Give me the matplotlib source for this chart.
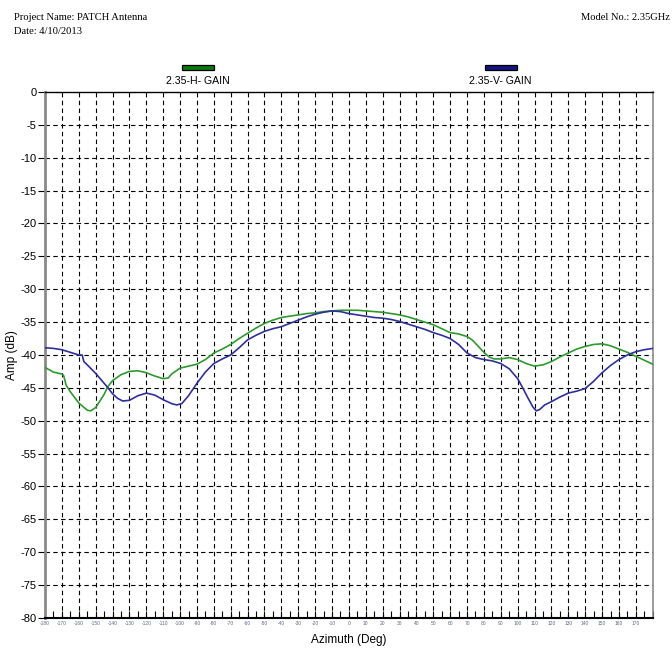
import matplotlib.pyplot as plt
from matplotlib.patches import Rectangle
from matplotlib.ticker import MultipleLocator

# azimuth (deg) and gain (dB) for the two polarisations
h_az = [-180, -175, -170, -169, -167.5, -165, -160, -155, -153, -150, -145, -143,
        -140, -135, -130, -125, -120, -115, -110, -107, -105, -100, -95, -90,
        -85, -80, -75, -70, -65, -60, -55, -50, -45, -40, -35, -30, -25, -20,
        -15, -10, -5, 0, 5, 10, 15, 20, 25, 30, 35, 40, 45, 50, 55, 60, 65, 70,
        73, 76, 80, 83, 86, 90, 95, 100, 105, 110, 115, 120, 125, 130, 135, 140,
        145, 150, 155, 160, 165, 170, 175, 180]
h_gain = [-41.9, -42.6, -42.9, -43.1, -44.6, -45.6, -47.3, -48.4, -48.5, -48.0,
          -46.0, -44.9, -43.9, -43.0, -42.5, -42.4, -42.7, -43.2, -43.6, -43.5,
          -42.9, -42.0, -41.7, -41.4, -40.7, -39.7, -39.1, -38.4, -37.5, -36.7,
          -35.9, -35.2, -34.7, -34.3, -34.1, -33.9, -33.7, -33.6, -33.4, -33.3,
          -33.2, -33.2, -33.2, -33.3, -33.4, -33.5, -33.7, -33.9, -34.2, -34.6,
          -35.0, -35.4, -36.0, -36.6, -36.8, -37.2, -37.7, -38.5, -39.6, -40.3,
          -40.6, -40.6, -40.4, -40.7, -41.3, -41.7, -41.5, -41.0, -40.3, -39.7,
          -39.1, -38.7, -38.4, -38.3, -38.6, -39.1, -39.6, -40.2, -40.8, -41.4]

v_az = [-180, -175, -170, -165, -160, -158, -157, -155, -150, -145, -143, -140,
        -137, -134, -130, -125, -120, -115, -110, -105, -102, -99, -95, -90,
        -85, -80, -75, -70, -65, -60, -55, -50, -45, -40, -35, -30, -25, -20,
        -15, -10, -5, 0, 5, 10, 15, 20, 25, 30, 35, 40, 45, 50, 55, 60, 65, 70,
        75, 80, 85, 90, 95, 100, 103, 106, 109, 111, 113, 116, 120, 125, 130,
        135, 140, 145, 150, 155, 160, 165, 170, 175, 180]
v_gain = [-38.9, -39.0, -39.2, -39.6, -40.0, -40.0, -41.0, -41.5, -42.8, -44.3,
          -44.9, -45.9, -46.6, -47.0, -46.9, -46.2, -45.8, -46.1, -46.8, -47.4,
          -47.6, -47.4, -46.2, -44.3, -42.6, -41.3, -40.6, -40.0, -38.9, -37.7,
          -37.0, -36.4, -36.0, -35.7, -35.2, -34.7, -34.2, -33.8, -33.5, -33.3,
          -33.4, -33.7, -33.9, -34.1, -34.3, -34.4, -34.6, -34.9, -35.3, -35.7,
          -36.1, -36.6, -37.0, -37.5, -38.4, -39.7, -40.4, -40.7, -40.9, -41.3,
          -42.1, -43.6, -45.0, -46.5, -47.9, -48.5, -48.3, -47.6, -47.1, -46.4,
          -45.8, -45.5, -45.1, -44.0, -42.7, -41.6, -40.7, -40.0, -39.5, -39.2,
          -39.0]

x_ticks = list(range(-180, 180, 10))
y_ticks = list(range(-80, 1, 5))

fig = plt.figure(figsize=(6.72, 6.57), dpi=100)
ax = fig.add_axes([0.067, 0.0594, 0.9043, 0.8006])

ax.plot(h_az, h_gain, color='#2e9a2e', lw=1.2, zorder=3)
ax.plot(v_az, v_gain, color='#2f2f9c', lw=1.2, zorder=3)

ax.set_xlim(-180, 180)
ax.set_ylim(-80, 0)

# dashed grid every 10 deg / 5 dB
for x in x_ticks[1:]:
    ax.axvline(x, color='black', lw=0.8, ls=(0, (4, 3)), zorder=1)
for y in y_ticks[1:-1]:
    ax.axhline(y, color='black', lw=0.8, ls=(0, (4, 3)), zorder=1)

ax.set_xticks(x_ticks)
ax.set_xticklabels([str(v) for v in x_ticks], fontsize=3.5, color='#5a6a80',
                   family='Liberation Sans')
ax.xaxis.set_minor_locator(MultipleLocator(5))
ax.tick_params(axis='x', which='both', direction='in', length=5, width=0.8,
               pad=2)
ax.set_yticks(y_ticks)
ax.set_yticklabels([str(v) for v in y_ticks], fontsize=8,
                   family='Liberation Sans')
ax.tick_params(axis='y', direction='out', length=5, width=0.8, pad=1)

ax.spines['left'].set_color('#8a8a8a')
ax.spines['left'].set_linewidth(2)
ax.spines['right'].set_color('#8a8a8a')
ax.spines['right'].set_linewidth(1.2)
ax.spines['bottom'].set_linewidth(1.5)
ax.spines['top'].set_linewidth(1.0)

ax.set_xlabel('Azimuth (Deg)', fontsize=8.5, family='Liberation Sans',
              labelpad=6)
ax.set_ylabel('Amp (dB)', fontsize=8.5, family='Liberation Sans', labelpad=2)

# header
fig.text(14 / 672, 1 - 17 / 657, 'Project Name: PATCH Antenna', fontsize=7.6,
         family='Liberation Serif', va='center', ha='left')
fig.text(14 / 672, 1 - 32 / 657, 'Date: 4/10/2013', fontsize=7.6,
         family='Liberation Serif', va='center', ha='left')
fig.text(670 / 672, 1 - 17 / 657, 'Model No.: 2.35GHz', fontsize=7.6,
         family='Liberation Serif', va='center', ha='right')

# legend swatches
for cx, col, name in [(197.5, '#0b7a0b', '2.35-H- GAIN'),
                      (500.5, '#141480', '2.35-V- GAIN')]:
    fig.patches.append(Rectangle(((cx - 16) / 672, 1 - 70 / 657), 32 / 672,
                                 4.5 / 657, transform=fig.transFigure,
                                 facecolor=col, edgecolor='black', lw=0.9))
    fig.text(cx / 672, 1 - 81 / 657, name, fontsize=7.6,
             family='Liberation Sans', ha='center', va='center')

fig.savefig('out.png', dpi=100)
